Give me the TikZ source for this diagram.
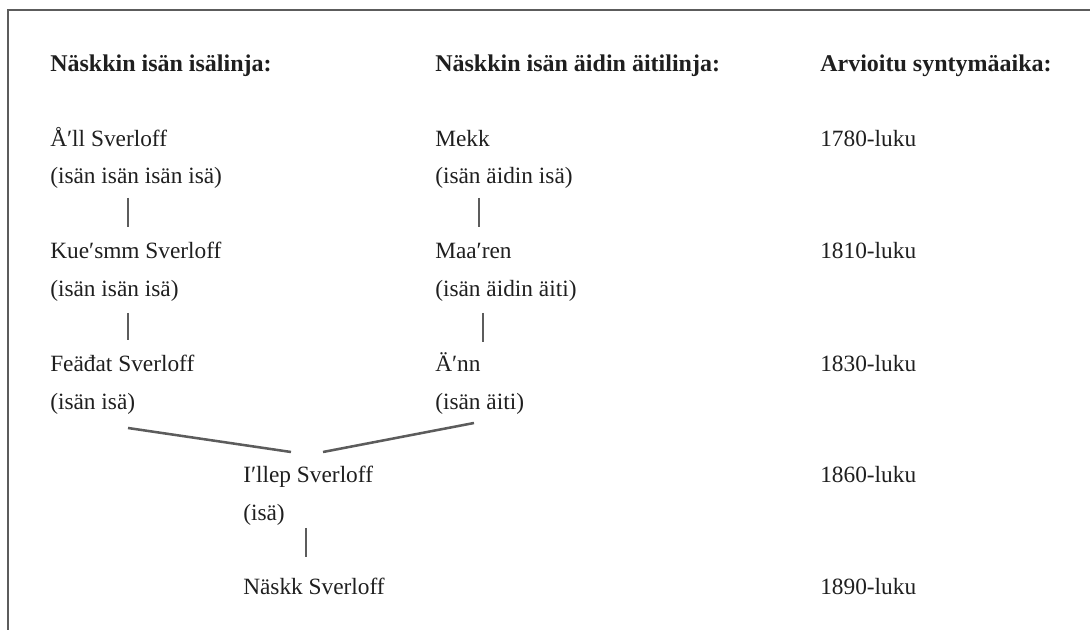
\documentclass[tikz,border=0pt]{standalone}
\usepackage{fontspec}
\setmainfont{Liberation Serif}
\usetikzlibrary{calc}
\definecolor{rulegray}{HTML}{5C5C5C}

\begin{document}
\begin{tikzpicture}[x=0.75pt, y=-0.75pt,
  every node/.style = {anchor=base west, inner sep=0pt, text=black!88, font=\fontsize{17.5}{20}\selectfont},
  head/.style = {font=\fontsize{18}{20}\selectfont\bfseries},
  link/.style = {draw=rulegray, line width=1.9pt}]
\useasboundingbox (0,0) rectangle (1090,630);
\draw[rulegray, line width=2.1pt] (8,630) -- (8,10) -- (1090,10);

% otsikot
\node[head] (isalinja) at (50,72) {Näskkin isän isälinja:};
\node[head] (aitilinja) at (435,72) {Näskkin isän äidin äitilinja:};
\node[head] (aika) at (820,72) {Arvioitu syntymäaika:};

% isälinja
\node (all) at (50,147) {Å′ll Sverloff};
\node (all-r) at (50,184) {(isän isän isän isä)};
\node (kuesmm) at (50,259) {Kue′smm Sverloff};
\node (kuesmm-r) at (50,297) {(isän isän isä)};
\node (feadat) at (50,372) {Feäđat Sverloff};
\node (feadat-r) at (50,410) {(isän isä)};

% äitilinja
\node (mekk) at (435,147) {Mekk};
\node (mekk-r) at (435,184) {(isän äidin isä)};
\node (maaren) at (435,259) {Maa′ren};
\node (maaren-r) at (435,297) {(isän äidin äiti)};
\node (ann) at (435,372) {Ä′nn};
\node (ann-r) at (435,410) {(isän äiti)};

\node (illep) at (243,483) {I′llep Sverloff};
\node (illep-r) at (243,521) {(isä)};
\node (naskk) at (243,595) {Näskk Sverloff};

% vuodet
\node (v1780) at (820,147) {1780-luku};
\node (v1810) at (820,259) {1810-luku};
\node (v1830) at (820,372) {1830-luku};
\node (v1860) at (820,483) {1860-luku};
\node (v1890) at (820,595) {1890-luku};

% viivat
\draw[link] ($(all-r.base west)+(78,14)$) -- ($(kuesmm.base west)+(78,-32)$);
\draw[link] ($(kuesmm-r.base west)+(78,16)$) -- ($(feadat.base west)+(78,-32)$);
\draw[link] ($(mekk-r.base west)+(44,14)$) -- ($(maaren.base west)+(44,-32)$);
\draw[link] ($(maaren-r.base west)+(48,16)$) -- ($(ann.base west)+(48,-30)$);
\draw[link] ($(feadat-r.base west)+(78,18)$) -- ($(illep.base west)+(48,-31)$);
\draw[link] ($(ann-r.base west)+(39,13)$) -- ($(illep.base west)+(80,-31)$);
\draw[link] ($(illep-r.base west)+(63,7)$) -- ($(naskk.base west)+(63,-38)$);
\end{tikzpicture}
\end{document}
